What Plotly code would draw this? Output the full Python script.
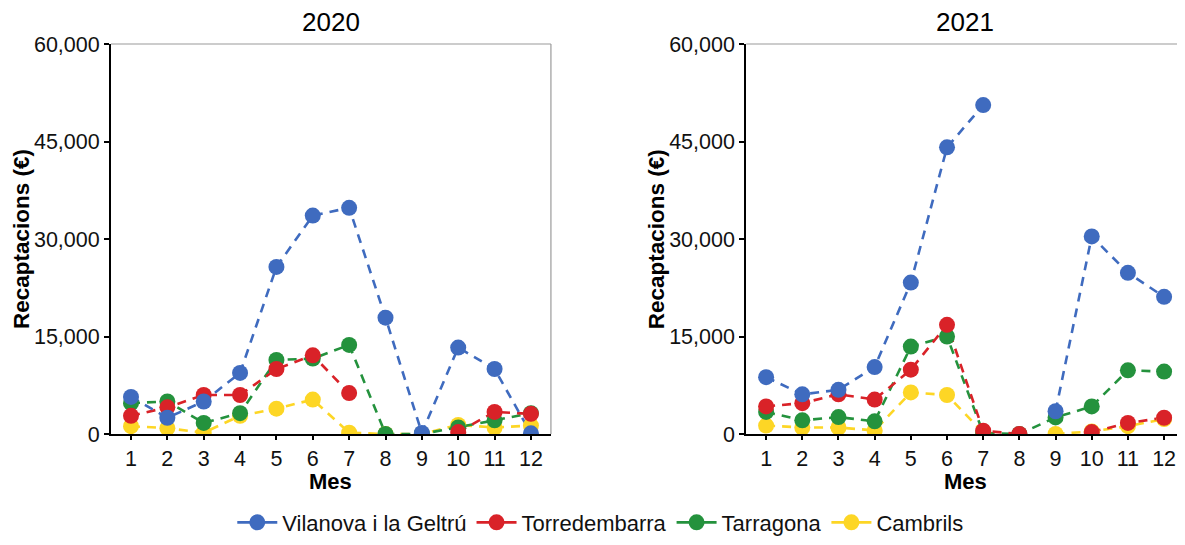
import plotly.graph_objects as go

months = list(range(1, 13))
month_labels = [str(m) for m in months]
years = ["2020", "2021"]
series_names = ["Vilanova i la Geltrú", "Torredembarra", "Tarragona", "Cambrils"]
colors = ["#3F6BBF", "#D92228", "#24923D", "#FDD625"]

vilanova_2020 = [5700, 2500, 5000, 9400, 25700, 33600, 34800, 17900, 150, 13300, 10000, 100]
torredembarra_2020 = [2800, 4100, 6000, 6000, 10000, 12100, 6300, None, None, 300, 3400, 3100]
tarragona_2020 = [4750, 5000, 1700, 3200, 11400, 11600, 13700, 0, 0, 1000, 2100, 3200]
cambrils_2020 = [1200, 900, 200, 2800, 3900, 5300, 200, 0, 0, 1400, 1000, 1300]

vilanova_2021 = [8750, 6100, 6800, 10300, 23300, 44100, 50600, None, 3500, 30400, 24800, 21100]
torredembarra_2021 = [4250, 4750, 6100, 5300, 9900, 16800, 500, 0, None, 300, 1700, 2500]
tarragona_2021 = [3400, 2100, 2600, 1950, 13450, 15000, 150, 0, 2550, 4250, 9800, 9600]
cambrils_2021 = [1300, 1000, 1000, 550, 6400, 6000, 200, None, 0, 400, 1200, 2300]

data = {
    "2020": [vilanova_2020, torredembarra_2020, tarragona_2020, cambrils_2020],
    "2021": [vilanova_2021, torredembarra_2021, tarragona_2021, cambrils_2021],
}

y_ticks = [0, 15000, 30000, 45000, 60000]

FONT = "Liberation Sans, Arial, sans-serif"

fig = go.Figure()

axes = [("x", "y"), ("x2", "y2")]
draw_order = [3, 2, 1, 0]
for (xa, ya), yr in zip(axes, years):
    for i in draw_order:
        fig.add_trace(go.Scatter(
            x=months, y=data[yr][i], mode="lines", xaxis=xa, yaxis=ya,
            line=dict(color=colors[i], width=2.6, dash="9px,7px"),
            showlegend=False, connectgaps=False, hoverinfo="skip"))
    for i in draw_order:
        fig.add_trace(go.Scatter(
            x=months, y=data[yr][i], mode="markers", xaxis=xa, yaxis=ya,
            marker=dict(color=colors[i], size=16),
            showlegend=False, name=series_names[i]))

for i, name in enumerate(series_names):
    fig.add_trace(go.Scatter(
        x=[None], y=[None], mode="lines+markers", name=name,
        line=dict(color=colors[i], width=2.6),
        marker=dict(color=colors[i], size=16),
        legendrank=i + 1, showlegend=True))

tickfont = dict(family=FONT, size=21.5, color="#111111")
titlefont = dict(family=FONT, size=22, color="#000000")

xcommon = dict(
    range=[0.45, 12.55], tickmode="array", tickvals=months, ticktext=month_labels,
    showline=True, linecolor="black", linewidth=2, ticks="outside", ticklen=4,
    tickcolor="black", tickwidth=1.5, showgrid=False, zeroline=False,
    tickfont=tickfont,
)
ycommon = dict(
    range=[0, 60000], tickmode="array", tickvals=y_ticks, tickformat=",",
    showline=True, linecolor="black", linewidth=2, ticks="outside", ticklen=5,
    tickcolor="black", tickwidth=1.5, showgrid=False, zeroline=False,
    tickfont=tickfont,
)

fig.update_layout(
    width=1177, height=537,
    margin=dict(l=103, r=1, t=36, b=109),
    paper_bgcolor="white", plot_bgcolor="white",
    xaxis=dict(domain=[0, 0.41], anchor="y", **xcommon),
    yaxis=dict(domain=[0, 1], anchor="x", **ycommon),
    xaxis2=dict(domain=[0.592, 1], anchor="y2", **xcommon),
    yaxis2=dict(domain=[0, 1], anchor="x2", **ycommon),
    showlegend=True,
    legend=dict(orientation="h", x=0.456, xanchor="center", y=-0.227, yanchor="middle",
                font=dict(family=FONT, size=22, color="#111111"),
                itemwidth=40, tracegroupgap=0),
)

for xa, ya, yr in [("x", "y", "2020"), ("x2", "y2", "2021")]:
    fig.add_annotation(text=yr, xref=f"{xa} domain", yref=f"{ya} domain", x=0.5, y=1,
                       yshift=22, showarrow=False, yanchor="middle",
                       font=dict(family=FONT, size=26, color="#000000"))
    fig.add_annotation(text="<b>Mes</b>", xref=f"{xa} domain", yref=f"{ya} domain", x=0.5, y=0,
                       yshift=-47, showarrow=False, yanchor="middle", xanchor="center",
                       font=titlefont)
    fig.add_annotation(text="<b>Recaptacions (€)</b>", xref=f"{xa} domain", yref=f"{ya} domain",
                       x=0, y=0.5, xshift=-90, showarrow=False, textangle=-90,
                       xanchor="center", yanchor="middle",
                       font=dict(family=FONT, size=22.5, color="#000000"))
    fig.add_shape(type="line", xref=f"{xa} domain", yref=f"{ya} domain", x0=0, x1=1, y0=1, y1=1,
                  line=dict(color="#9a9a9a", width=1.2))
    fig.add_shape(type="line", xref=f"{xa} domain", yref=f"{ya} domain", x0=1, x1=1, y0=0, y1=1,
                  line=dict(color="#9a9a9a", width=1.2))

fig.write_html("out.html")
